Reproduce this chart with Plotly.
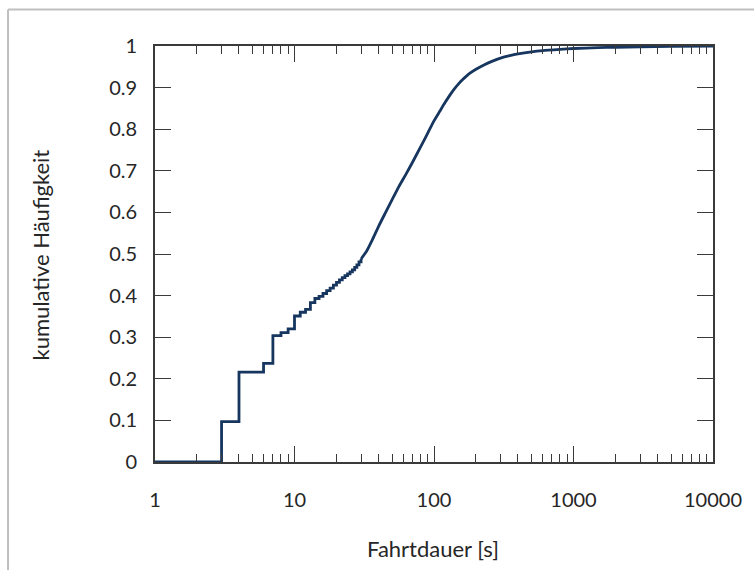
import plotly.graph_objects as go

# Step part of the empirical CDF (durations in whole seconds)
x_step = [1, 3, 4, 6, 7, 8, 9, 10, 11, 12, 13, 14, 15, 16, 17, 18, 19, 20,
          21, 22, 23, 24, 25, 26, 27, 28, 29, 30]
y_step = [0.0, 0.097, 0.216, 0.237, 0.304, 0.311, 0.320, 0.351, 0.360, 0.367,
          0.383, 0.393, 0.398, 0.405, 0.412, 0.418, 0.425, 0.432,
          0.438, 0.443, 0.448, 0.452, 0.457, 0.462, 0.468, 0.474, 0.481, 0.488]

# Dense (visually smooth) part of the CDF
x_smooth = [30, 33, 36, 40, 45, 50, 56, 63, 70, 80, 90, 100, 110, 120, 130,
            140, 150, 160, 170, 180, 200, 230, 260, 300, 350, 400, 500, 600,
            800, 1000, 1500, 2000, 3000, 5000, 10000]
y_smooth = [0.488, 0.508, 0.533, 0.566, 0.600, 0.630, 0.662, 0.692, 0.720,
            0.757, 0.790, 0.820, 0.843, 0.864, 0.882, 0.897, 0.909, 0.919,
            0.927, 0.934, 0.944, 0.955, 0.963, 0.971, 0.977, 0.981, 0.986,
            0.989, 0.992, 0.994, 0.996, 0.997, 0.998, 0.999, 1.0]

x_ticks = [1, 10, 100, 1000, 10000]
x_ticklabels = ["1", "10", "100", "1000", "10000"]
x_minor = [m * d for d in [1, 10, 100, 1000] for m in range(2, 10)]
y_ticks = [0, 0.1, 0.2, 0.3, 0.4, 0.5, 0.6, 0.7, 0.8, 0.9, 1]
y_ticklabels = ["0", "0.1", "0.2", "0.3", "0.4", "0.5", "0.6", "0.7", "0.8", "0.9", "1"]

line_color = "#16365f"
axis_color = "#3a3a3a"
font_family = "Lato, 'Open Sans', sans-serif"
text_color = "#262626"

fig = go.Figure()
fig.add_trace(go.Scatter(x=x_step, y=y_step, mode="lines", line_shape="hv",
                         line=dict(color=line_color, width=2.8), showlegend=False))
fig.add_trace(go.Scatter(x=x_smooth, y=y_smooth, mode="lines", line_shape="spline",
                         line=dict(color=line_color, width=2.8, smoothing=0.6),
                         showlegend=False))

W, H = 754, 570
L, R, T, B = 155, 715, 46, 462
pw, ph = R - L, B - T

fig.update_layout(
    width=W, height=H,
    margin=dict(l=L, r=W - R, t=T, b=H - B),
    paper_bgcolor="white", plot_bgcolor="white",
    font=dict(family=font_family, size=20, color=text_color),
    showlegend=False,
)
fig.update_xaxes(
    type="log", range=[0, 4],
    tickmode="array", tickvals=x_ticks, ticktext=x_ticklabels,
    ticks="inside", ticklen=16, tickwidth=1.3, tickcolor=axis_color,
    minor=dict(tickmode="array", tickvals=x_minor, ticks="inside", ticklen=8,
               tickwidth=1.3, tickcolor=axis_color, showgrid=False),
    showline=True, linecolor=axis_color, linewidth=1.6, mirror="ticks",
    showgrid=False, zeroline=False,
    ticklabelstandoff=19,
    tickfont=dict(size=20, color=text_color),
)
fig.update_yaxes(
    range=[0, 1],
    tickmode="array", tickvals=y_ticks, ticktext=y_ticklabels,
    ticks="inside", ticklen=16, tickwidth=1.3, tickcolor=axis_color,
    showline=True, linecolor=axis_color, linewidth=1.6, mirror="ticks",
    showgrid=False, zeroline=False,
    ticklabelstandoff=12,
    tickfont=dict(size=20, color=text_color),
)

# Axis titles
fig.add_annotation(text="Fahrtdauer [s]", xref="paper", yref="paper",
                   x=(434 - L) / pw, y=(B - 548) / ph, showarrow=False,
                   xanchor="center", yanchor="middle",
                   font=dict(size=22, color=text_color))
fig.add_annotation(text="kumulative Häufigkeit", xref="paper", yref="paper",
                   x=(40 - L) / pw, y=(B - 255) / ph, showarrow=False,
                   textangle=-90, xanchor="center", yanchor="middle",
                   font=dict(size=22, color=text_color))

# Light gray outer frame (top and left edges visible)
fig.add_shape(type="line", xref="paper", yref="paper",
              x0=(7.5 - L) / pw, x1=(800 - L) / pw,
              y0=(B - 9.5) / ph, y1=(B - 9.5) / ph,
              line=dict(color="#bfbfbf", width=2))
fig.add_shape(type="line", xref="paper", yref="paper",
              x0=(7.5 - L) / pw, x1=(7.5 - L) / pw,
              y0=(B - 9.5) / ph, y1=(B - 620) / ph,
              line=dict(color="#bfbfbf", width=2))

fig.write_html("out.html")
